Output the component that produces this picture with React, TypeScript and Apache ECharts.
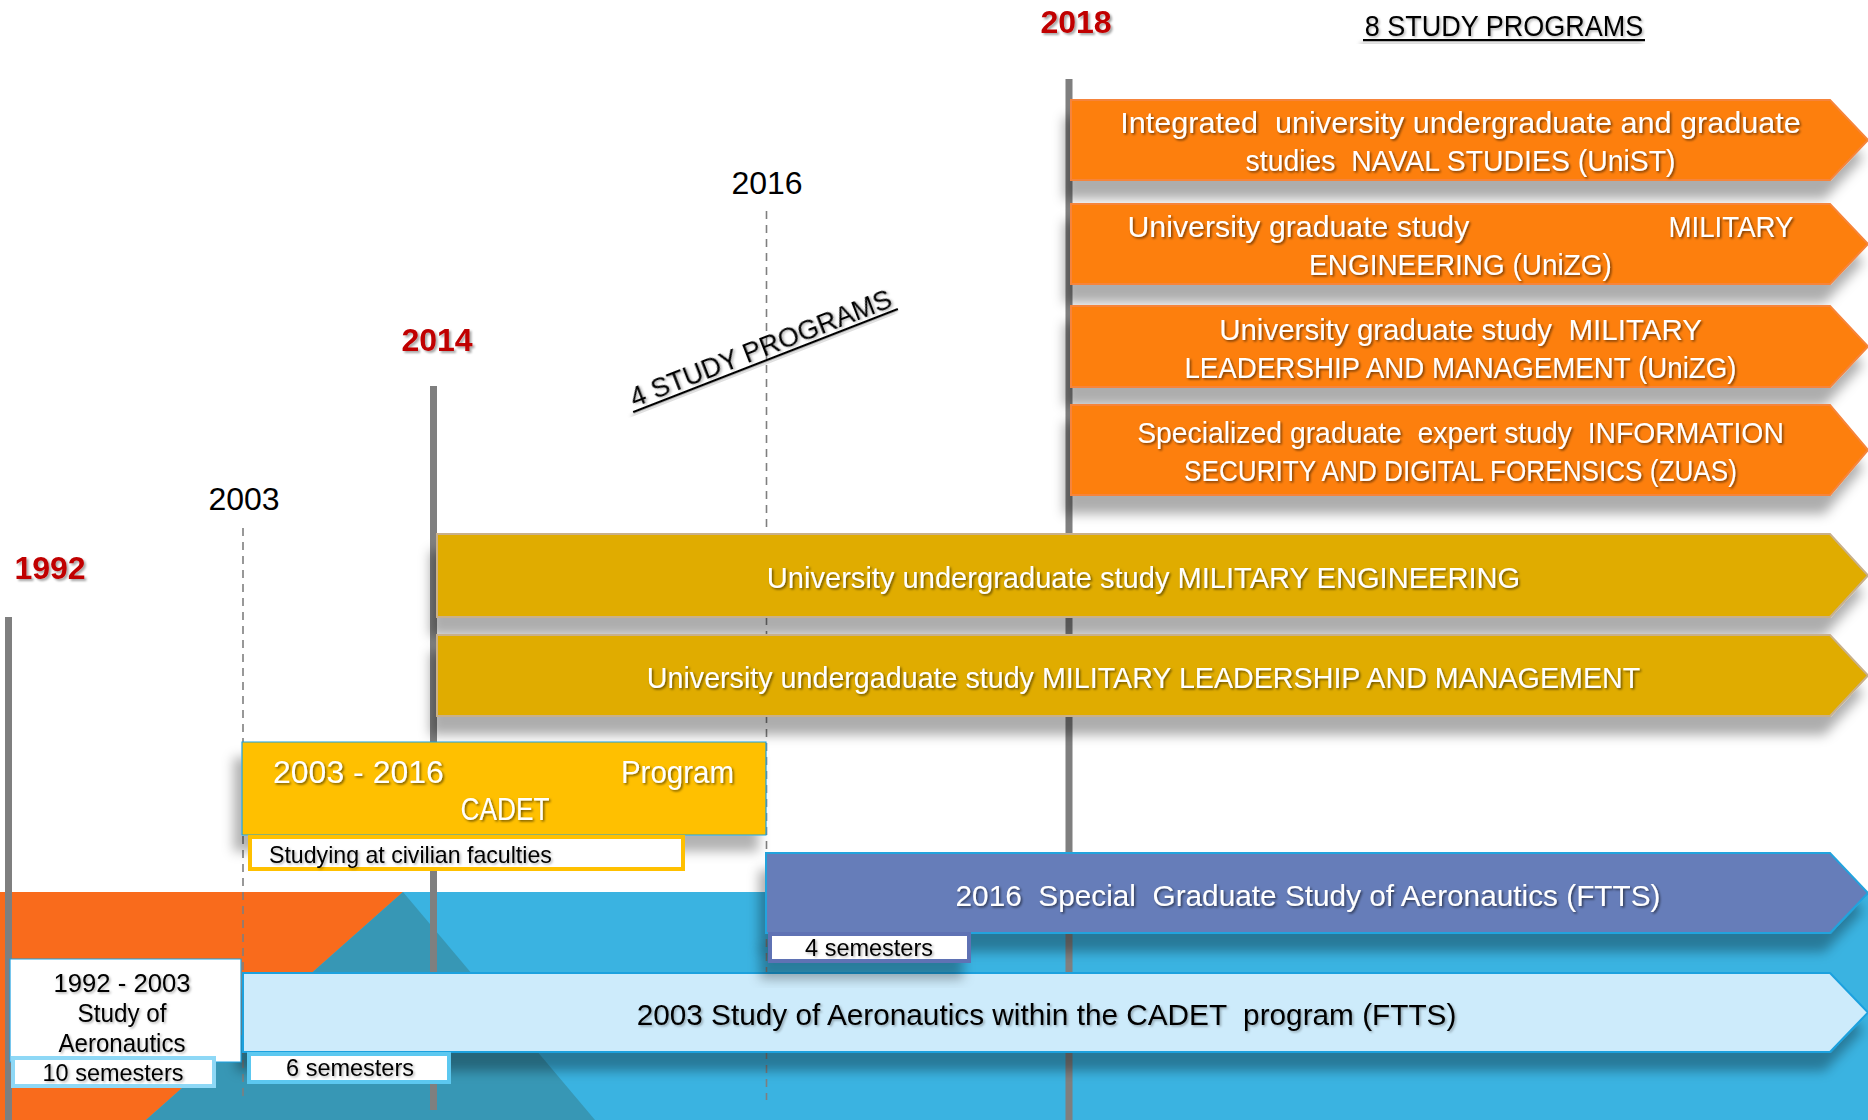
import React, { useEffect, useRef } from "react";
import * as echarts from "echarts";

const W = 1868;
const H = 1120;
const FONT = "'Liberation Sans', Arial, Helvetica, sans-serif";

// ---------- Milestones on the timeline ----------
const milestoneYears = ["1992", "2003", "2014", "2016", "2018"];
const milestoneKey = [true, false, true, false, true];
const milestoneX = [8.5, 243, 433.5, 766.5, 1069];
const milestoneTop = [617, 528, 386, 211, 79];
const milestoneBottom = [1120, 1100, 1110, 1100, 1120];
const milestoneLabelX = [50, 244, 437, 767, 1076];
const milestoneLabelY = [568, 499, 340, 183, 22];

// ---------- Study programme bars ----------
const programLines: string[][] = [
  ["Integrated  university undergraduate and graduate", "studies  NAVAL STUDIES (UniST)"],
  ["University graduate study|MILITARY", "ENGINEERING (UniZG)"],
  ["University graduate study  MILITARY", "LEADERSHIP AND MANAGEMENT (UniZG)"],
  ["Specialized graduate  expert study  INFORMATION", "SECURITY AND DIGITAL FORENSICS (ZUAS)"],
  ["University undergraduate study MILITARY ENGINEERING"],
  ["University undergaduate study MILITARY LEADERSHIP AND MANAGEMENT"],
  ["2016  Special  Graduate Study of Aeronautics (FTTS)"],
  ["2003 Study of Aeronautics within the CADET  program (FTTS)"],
];
const programStart = [1071, 1071, 1071, 1071, 437, 437, 766, 243];
const programTop = [100, 204, 306, 405, 534, 635, 853, 973];
const programBottom = [180, 284, 387, 495, 617, 716, 933, 1052];
const arrowBase = 1830;
const arrowTip = 1868;
// rendered width of each text segment (layout)
const programTextWidths = [
  [[681], [431]],
  [[342, 125], [303]],
  [[483], [555]],
  [[647], [556]],
  [[754]],
  [[997]],
  [[707]],
  [[822]],
];

// styles of the bars
const programFill = ["#FD7F0B", "#FD7F0B", "#FD7F0B", "#FD7F0B", "#E0AC00", "#E0AC00", "#667DB9", "#CDEBFB"];
const programStroke = ["#F6843A", "#F6843A", "#F6843A", "#F6843A", "#C9B08A", "#C9B08A", "#22A3DD", "#1DA1DE"];
const programTextColor = ["#FFFFFF", "#FFFFFF", "#FFFFFF", "#FFFFFF", "#FFFFFF", "#FFFFFF", "#FFFFFF", "#000000"];

// ---------- Boxes ----------
const boxRect = [
  [242, 742, 766, 835],
  [250, 837, 683, 869],
  [10, 959, 241, 1062],
  [13, 1058, 214, 1086],
  [249, 1054, 449, 1082],
  [770, 934, 969, 961],
];
const boxFill = ["#FFC000", "#FFFFFF", "#FFFFFF", "#FFFFFF", "#FFFFFF", "#FFFFFF"];
const boxStroke = ["#1BA1E2", "#FFC000", "#1BA1E2", "#8ED8F6", "#5CC8F0", "#5E72B4"];
const boxLineWidth = [1.2, 4, 1.2, 4, 4, 4];
const boxShadow = [true, false, false, false, false, true];

const boxTexts = [
  "2003 - 2016", "Program", "CADET", "Studying at civilian faculties",
  "1992 - 2003", "Study of", "Aeronautics", "10 semesters", "6 semesters", "4 semesters",
];
const boxTextPos = [
  [273, 772], [734, 772], [505, 809], [269, 855],
  [122, 983], [122, 1013], [122, 1043], [113, 1073], [350, 1068], [869, 948],
];
const boxTextWidth = [171, 113, 89, 283, 137, 89, 127, 141, 128, 128];
const boxTextAlign = ["left", "right", "center", "left", "center", "center", "center", "center", "center", "center"];
const boxTextSize = [31, 31, 31, 24, 26, 26, 26, 24, 24, 24];
const boxTextColor = ["#FFFFFF", "#FFFFFF", "#FFFFFF", "#000000", "#000000", "#000000", "#000000", "#000000", "#000000", "#000000"];

// ---------- Background ----------
const bgShapes = [
  [[0, 892], [W, 892], [W, H], [0, H]],
  [[0, 892], [403, 892], [146, H], [0, H]],
  [[403, 892], [595, H], [146, H]],
];
const bgColors = ["#3AB3E1", "#F96B1C", "#3797B5"];

// ---------- Titles ----------
const title8 = "8 STUDY PROGRAMS";
const title4 = "4 STUDY PROGRAMS";

const darkShadow = {
  textShadowColor: "rgba(0,0,0,0.55)",
  textShadowBlur: 2,
  textShadowOffsetX: 1.5,
  textShadowOffsetY: 1.5,
};
const lightShadow = {
  textShadowColor: "rgba(0,0,0,0.3)",
  textShadowBlur: 2,
  textShadowOffsetX: 1.5,
  textShadowOffsetY: 1.5,
};

let measureCtx: CanvasRenderingContext2D | null = null;
function textScale(text: string, size: number, target: number, weight = "normal") {
  if (!measureCtx) measureCtx = document.createElement("canvas").getContext("2d");
  if (!measureCtx) return 1;
  measureCtx.font = `${weight} ${size}px ${FONT}`;
  const w = measureCtx.measureText(text).width;
  if (!w || !target) return 1;
  return target / w;
}

function App() {
  const ref = useRef<HTMLDivElement>(null);

  useEffect(() => {
    const chart = echarts.init(ref.current!, null, { renderer: "svg", width: W, height: H });

    const bgSeries = {
      type: "custom",
      coordinateSystem: "cartesian2d",
      silent: true,
      z: 1,
      clip: false,
      data: bgShapes.map((s) => s[0]),
      renderItem: (params: any, api: any) => {
        const i = params.dataIndex;
        const pts = bgShapes[i].map((p) => api.coord(p));
        return { type: "polygon", shape: { points: pts }, style: { fill: bgColors[i] } };
      },
    };

    const milestoneSeries = {
      type: "custom",
      coordinateSystem: "cartesian2d",
      silent: true,
      z: 2,
      clip: false,
      data: milestoneX.map((x, i) => [x, milestoneTop[i]]),
      renderItem: (params: any, api: any) => {
        const i = params.dataIndex;
        const top = api.coord([milestoneX[i], milestoneTop[i]]);
        const bot = api.coord([milestoneX[i], milestoneBottom[i]]);
        if (milestoneKey[i]) {
          return {
            type: "rect",
            shape: { x: top[0] - 3.5, y: top[1], width: 7, height: bot[1] - top[1] },
            style: { fill: "#7F7F7F" },
          };
        }
        return {
          type: "line",
          shape: { x1: top[0], y1: top[1], x2: bot[0], y2: bot[1] },
          style: { stroke: "#7F7F7F", lineWidth: 1.6, lineDash: [8, 6] },
        };
      },
    };

    const programSeries = {
      type: "custom",
      coordinateSystem: "cartesian2d",
      silent: true,
      z: 3,
      clip: false,
      data: programStart.map((s, i) => [s, programTop[i], arrowBase, programBottom[i]]),
      renderItem: (params: any, api: any) => {
        const i = params.dataIndex;
        const [x0, y0] = api.coord([api.value(0), api.value(1)]);
        const [x1, y1] = api.coord([api.value(2), api.value(3)]);
        const tip = api.coord([arrowTip, 0])[0];
        const ym = (y0 + y1) / 2 + 2;
        const cx = (x0 + tip) / 2 - 9;
        const children: any[] = [
          {
            type: "polygon",
            shape: { points: [[x0, y0], [x1, y0], [tip, (y0 + y1) / 2], [x1, y1], [x0, y1]] },
            style: {
              fill: programFill[i],
              stroke: programStroke[i],
              lineWidth: 2,
              shadowColor: "rgba(0,0,0,0.32)",
              shadowBlur: 12,
              shadowOffsetX: -6,
              shadowOffsetY: 18,
            },
          },
        ];
        const lines = programLines[i];
        const n = lines.length;
        lines.forEach((line, k) => {
          const ly = n === 1 ? ym : ym + (k - (n - 1) / 2) * 38;
          const base = {
            fill: programTextColor[i],
            fontSize: 30,
            fontFamily: FONT,
            verticalAlign: "middle",
            ...(programTextColor[i] === "#FFFFFF" ? darkShadow : lightShadow),
          };
          const segs = line.split("|");
          const widths = programTextWidths[i][k];
          if (segs.length === 2) {
            const l = segs[0];
            const r = segs[1];
            const xl = cx - 333;
            const xr = cx + 333;
            children.push({
              type: "text", x: xl, y: ly, scaleX: textScale(l, 30, widths[0]),
              style: { ...base, text: l, align: "left" },
            });
            children.push({
              type: "text", x: xr, y: ly, scaleX: textScale(r, 30, widths[1]),
              style: { ...base, text: r, align: "right" },
            });
          } else {
            children.push({
              type: "text", x: cx, y: ly, scaleX: textScale(line, 30, widths[0]),
              style: { ...base, text: line, align: "center" },
            });
          }
        });
        return { type: "group", children };
      },
    };

    const boxSeries = {
      type: "custom",
      coordinateSystem: "cartesian2d",
      silent: true,
      z: 4,
      clip: false,
      data: boxRect.map((r) => [r[0], r[1], r[2], r[3]]),
      renderItem: (params: any, api: any) => {
        const i = params.dataIndex;
        const [x0, y0] = api.coord([api.value(0), api.value(1)]);
        const [x1, y1] = api.coord([api.value(2), api.value(3)]);
        const style: any = { fill: boxFill[i], stroke: boxStroke[i], lineWidth: boxLineWidth[i] };
        if (boxShadow[i]) {
          Object.assign(style, {
            shadowColor: "rgba(0,0,0,0.3)",
            shadowBlur: 12,
            shadowOffsetX: -8,
            shadowOffsetY: 16,
          });
        }
        return { type: "rect", shape: { x: x0, y: y0, width: x1 - x0, height: y1 - y0 }, style };
      },
    };

    const boxTextSeries = {
      type: "custom",
      coordinateSystem: "cartesian2d",
      silent: true,
      z: 5,
      clip: false,
      data: boxTextPos.map((p) => p),
      renderItem: (params: any, api: any) => {
        const i = params.dataIndex;
        const [x, y] = api.coord([api.value(0), api.value(1)]);
        return {
          type: "text",
          x,
          y,
          scaleX: textScale(boxTexts[i], boxTextSize[i], boxTextWidth[i]),
          style: {
            text: boxTexts[i],
            fill: boxTextColor[i],
            fontSize: boxTextSize[i],
            fontFamily: FONT,
            align: boxTextAlign[i],
            verticalAlign: "middle",
            ...(boxTextColor[i] === "#FFFFFF" ? darkShadow : lightShadow),
          },
        };
      },
    };

    const labelSeries = {
      type: "custom",
      coordinateSystem: "cartesian2d",
      silent: true,
      z: 5,
      clip: false,
      data: milestoneLabelX.map((x, i) => [x, milestoneLabelY[i]]),
      renderItem: (params: any, api: any) => {
        const i = params.dataIndex;
        const [x, y] = api.coord([api.value(0), api.value(1)]);
        const key = milestoneKey[i];
        return {
          type: "text",
          x,
          y,
          style: {
            text: milestoneYears[i],
            fill: key ? "#C00000" : "#000000",
            fontSize: 32,
            fontWeight: key ? "bold" : "normal",
            fontFamily: FONT,
            align: "center",
            verticalAlign: "middle",
            ...(key
              ? { textShadowColor: "rgba(0,0,0,0.35)", textShadowBlur: 2, textShadowOffsetX: 2, textShadowOffsetY: 2 }
              : {}),
          },
        };
      },
    };

    const underline = (x1: number, x2: number, y: number) => ({
      type: "rect",
      shape: { x: x1, y: y - 1, width: x2 - x1, height: 2.2 },
      style: {
        fill: "#000000",
        shadowColor: "rgba(0,0,0,0.35)",
        shadowBlur: 4,
        shadowOffsetX: -3,
        shadowOffsetY: 4,
      },
    });

    const titleSeries = {
      type: "custom",
      coordinateSystem: "cartesian2d",
      silent: true,
      z: 5,
      clip: false,
      data: [[1504, 26], [765.5, 360.5]],
      renderItem: (params: any, api: any) => {
        const i = params.dataIndex;
        const [x, y] = api.coord([api.value(0), api.value(1)]);
        if (i === 0) {
          return {
            type: "group",
            x,
            y,
            children: [
              {
                type: "text",
                x: 0,
                y: 0,
                scaleY: 1.1,
                style: {
                  text: title8,
                  fill: "#000000",
                  fontSize: 27,
                  fontFamily: FONT,
                  align: "center",
                  verticalAlign: "middle",
                  ...lightShadow,
                },
              },
              underline(-141, 141, 14),
            ],
          };
        }
        return {
          type: "group",
          x,
          y,
          rotation: (21.3 * Math.PI) / 180,
          children: [
            {
              type: "text",
              x: 0,
              y: -13,
              style: {
                text: title4,
                fill: "#000000",
                fontSize: 27,
                fontFamily: FONT,
                align: "center",
                verticalAlign: "middle",
                ...lightShadow,
              },
            },
            underline(-142, 142, 0),
          ],
        };
      },
    };

    chart.setOption({
      animation: false,
      backgroundColor: "#FFFFFF",
      grid: { left: 0, right: 0, top: 0, bottom: 0 },
      xAxis: { type: "value", min: 0, max: W, show: false },
      yAxis: { type: "value", min: 0, max: H, inverse: true, show: false },
      series: [bgSeries, milestoneSeries, programSeries, boxSeries, boxTextSeries, labelSeries, titleSeries],
    } as any);

    return () => chart.dispose();
  }, []);

  return (
    <div
      ref={ref}
      style={{ position: "fixed", left: 0, top: 0, width: W, height: H, background: "#FFFFFF" }}
    />
  );
}

export default App;
